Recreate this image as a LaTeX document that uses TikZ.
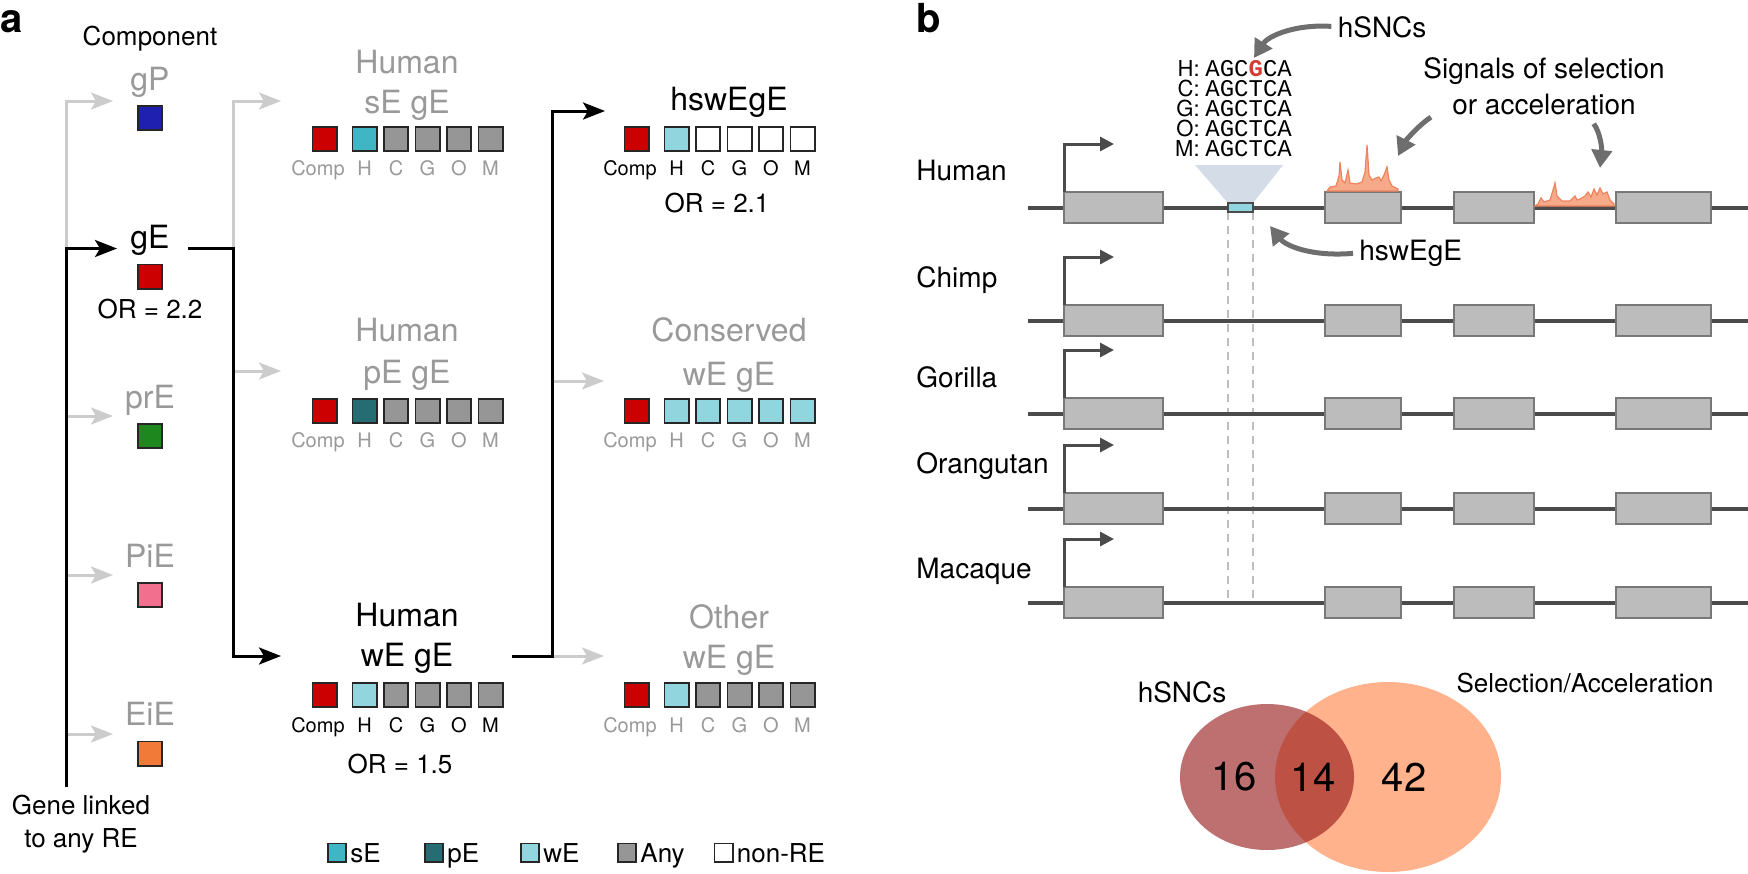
\documentclass[tikz,border=0pt]{standalone}
\usepackage{fontspec}
\setmainfont{TeX Gyre Heros}
\newfontfamily\seqfont{Liberation Mono}
\usetikzlibrary{positioning, arrows.meta, shapes.geometric}
\definecolor{colorFaded}{RGB}{153,153,153}
\definecolor{colorFadedLine}{RGB}{204,204,204}
\definecolor{colorComp}{RGB}{204,0,0}
\definecolor{colorgP}{RGB}{32,32,176}
\definecolor{colorprE}{RGB}{30,136,30}
\definecolor{colorPiE}{RGB}{242,112,142}
\definecolor{colorEiE}{RGB}{242,122,56}
\definecolor{colorsE}{RGB}{64,182,196}
\definecolor{colorpE}{RGB}{38,108,115}
\definecolor{colorwE}{RGB}{145,213,222}
\definecolor{colorAny}{RGB}{150,150,150}
\definecolor{colorTrack}{RGB}{75,75,75}
\definecolor{colorExon}{RGB}{188,188,188}
\definecolor{colorExonLine}{RGB}{120,120,120}
\definecolor{colorGuide}{RGB}{190,190,190}
\definecolor{colorFunnel}{RGB}{212,220,232}
\definecolor{colorPeak}{RGB}{247,170,138}
\definecolor{colorPeakLine}{RGB}{238,132,92}
\definecolor{colorNote}{RGB}{110,110,110}
\definecolor{colorSNC}{RGB}{150,24,24}
\definecolor{colorSel}{RGB}{255,178,140}
\definecolor{colorRedG}{RGB}{210,60,50}

\begin{document}
\begin{tikzpicture}[
    x=0.5pt, y=-0.5pt,
    panel/.style={font=\fontsize{20}{24}\selectfont\bfseries, anchor=base west, inner sep=0pt},
    titletext/.style={font=\fontsize{16}{19}\selectfont, anchor=base, inner sep=0pt},
    note/.style={font=\fontsize{13}{16}\selectfont, anchor=base, inner sep=0pt},
    boxlabel/.style={font=\fontsize{10}{12}\selectfont, anchor=base, inner sep=0pt},
    faded/.style={text=colorFaded},
    swatch/.style={draw=black!85, line width=0.9pt, minimum size=12.1pt, inner sep=0pt},
    legendbox/.style={draw=black!85, line width=0.8pt, minimum size=9.2pt, inner sep=0pt},
    arrow/.style={-{Stealth[length=11pt, width=8.5pt, inset=2.5pt]}, line width=1.5pt, color=black},
    fadedarrow/.style={arrow, color=colorFadedLine},
    species/.style={font=\fontsize{14}{17}\selectfont, anchor=base west, inner sep=0pt},
    seqlabel/.style={font=\fontsize{11}{10}\selectfont, anchor=south east, align=right, inner sep=0pt},
    seqtext/.style={font=\seqfont\fontsize{12}{10}\selectfont, anchor=south west, align=left, inner sep=0pt},
    track/.style={line width=2pt, color=colorTrack},
    exon/.style={fill=colorExon, draw=colorExonLine, line width=0.9pt},
    tss/.style={-{Triangle[length=7pt, width=7pt]}, line width=1.5pt, color=colorTrack},
    guide/.style={dash pattern=on 4pt off 3pt, line width=1pt, color=colorGuide},
    peak/.style={fill=colorPeak, draw=colorPeakLine, line width=0.6pt},
    curvearrow/.style={-{Triangle[length=9pt, width=10pt]}, line width=2.5pt, color=colorNote, shorten <=3pt},
    count/.style={font=\fontsize{20}{24}\selectfont, inner sep=0pt}
]
\useasboundingbox (0,0) rectangle (1748,873);

% Panel labels
\node[panel] (panelA) at (0,32) {a};
\node[panel] (panelB) at (916,32) {b};

% Component column nodes
\node[note] (compHead) at (150,45) {Component};
\node[titletext, faded] (gP) at (150,90) {gP};
\node[swatch, fill=colorgP] (gPbox) at (150,118) {};
\node[titletext] (gE) at (150,248.5) {gE};
\node[swatch, fill=colorComp] (gEbox) at (150,276.5) {};
\node[note] (gEor) at (150,318) {OR = 2.2};
\node[titletext, faded] (prE) at (150,408) {prE};
\node[swatch, fill=colorprE] (prEbox) at (150,436) {};
\node[titletext, faded] (PiE) at (150,567) {PiE};
\node[swatch, fill=colorPiE] (PiEbox) at (150,595) {};
\node[titletext, faded] (EiE) at (150,725.5) {EiE};
\node[swatch, fill=colorEiE] (EiEbox) at (150,753.5) {};
\node[note] (geneAny) at (81,814) {Gene linked};
\node[note] (geneAny2) at (81,847) {to any RE};

% Human sE gE
\node[titletext, faded] (sEname) at (407,73) {Human};
\node[titletext, faded] (sEname2) at (407,113) {sE gE};
\node[swatch, fill=colorComp] (sEComp) at (324.5,139) {};
\node[swatch, fill=colorsE] (sEH) at (364.5,139) {};
\foreach \s/\x in {C/396, G/427.5, O/459, M/490.5}
    \node[swatch, fill=colorAny] (sE\s) at (\x,139) {};
\foreach \s/\x in {Comp/318, H/364.5, C/396, G/427.5, O/459, M/490.5}
    \node[boxlabel, faded] (sElab\s) at (\x,175) {\s};

% Human pE gE
\node[titletext, faded] (pEname) at (407,341) {Human};
\node[titletext, faded] (pEname2) at (407,383) {pE gE};
\node[swatch, fill=colorComp] (pEComp) at (324.5,411) {};
\node[swatch, fill=colorpE] (pEH) at (364.5,411) {};
\foreach \s/\x in {C/396, G/427.5, O/459, M/490.5}
    \node[swatch, fill=colorAny] (pE\s) at (\x,411) {};
\foreach \s/\x in {Comp/318, H/364.5, C/396, G/427.5, O/459, M/490.5}
    \node[boxlabel, faded] (pElab\s) at (\x,447) {\s};

% Human wE gE
\node[titletext] (wEname) at (407,626) {Human};
\node[titletext] (wEname2) at (407,666) {wE gE};
\node[swatch, fill=colorComp] (wEComp) at (324.5,695) {};
\node[swatch, fill=colorwE] (wEH) at (364.5,695) {};
\foreach \s/\x in {C/396, G/427.5, O/459, M/490.5}
    \node[swatch, fill=colorAny] (wE\s) at (\x,695) {};
\foreach \s/\x in {Comp/318, H/364.5, C/396, G/427.5, O/459, M/490.5}
    \node[boxlabel] (wElab\s) at (\x,732) {\s};
\node[note] (wEor) at (400,773) {OR = 1.5};

% hswEgE
\node[titletext] (hswname) at (729,110) {hswEgE};
\node[swatch, fill=colorComp] (hswComp) at (636.5,139) {};
\node[swatch, fill=colorwE] (hswH) at (676.5,139) {};
\foreach \s/\x in {C/708, G/739.5, O/771, M/802.5}
    \node[swatch, fill=white] (hsw\s) at (\x,139) {};
\foreach \s/\x in {Comp/630, H/676.5, C/708, G/739.5, O/771, M/802.5}
    \node[boxlabel] (hswlab\s) at (\x,175) {\s};
\node[note] (hswor) at (717,212) {OR = 2.1};

% Conserved wE gE
\node[titletext, faded] (consname) at (729,341) {Conserved};
\node[titletext, faded] (consname2) at (729,385) {wE gE};
\node[swatch, fill=colorComp] (consComp) at (636.5,411) {};
\foreach \s/\x in {H/676.5, C/708, G/739.5, O/771, M/802.5}
    \node[swatch, fill=colorwE] (cons\s) at (\x,411) {};
\foreach \s/\x in {Comp/630, H/676.5, C/708, G/739.5, O/771, M/802.5}
    \node[boxlabel, faded] (conslab\s) at (\x,447) {\s};

% Other wE gE
\node[titletext, faded] (othername) at (729,628) {Other};
\node[titletext, faded] (othername2) at (729,668) {wE gE};
\node[swatch, fill=colorComp] (otherComp) at (636.5,695) {};
\node[swatch, fill=colorwE] (otherH) at (676.5,695) {};
\foreach \s/\x in {C/708, G/739.5, O/771, M/802.5}
    \node[swatch, fill=colorAny] (other\s) at (\x,695) {};
\foreach \s/\x in {Comp/630, H/676.5, C/708, G/739.5, O/771, M/802.5}
    \node[boxlabel, faded] (otherlab\s) at (\x,732) {\s};

% Arrows
\coordinate (trunk) at (66,787);
\coordinate (trunkSplit) at (66,248.5);
\coordinate (gPin) at (113,101);
\coordinate (gEin) at (117,248.5);
\coordinate (prEin) at (113,416);
\coordinate (PiEin) at (113,575);
\coordinate (EiEin) at (113,734);
\coordinate (gEout) at (188,248.5);
\coordinate (gEsplit) at (233,248.5);
\coordinate (sEin) at (281,101);
\coordinate (pEin) at (281,371);
\coordinate (wEin) at (281,656);
\coordinate (wEout) at (512,656);
\coordinate (wEsplit) at (552,656);
\coordinate (hswIn) at (605,111);
\coordinate (consIn) at (604,381);
\coordinate (otherIn) at (604,656);

\draw[fadedarrow] (trunkSplit) |- (gPin);
\draw[fadedarrow] (trunk) |- (prEin);
\draw[fadedarrow] (trunk) |- (PiEin);
\draw[fadedarrow] (trunk) |- (EiEin);
\draw[fadedarrow] (gEsplit) |- (sEin);
\draw[fadedarrow] (gEsplit) |- (pEin);
\draw[fadedarrow] (wEsplit) |- (consIn);
\draw[fadedarrow] (wEsplit) -- (otherIn);
\draw[arrow] (trunk) |- (gEin);
\draw[arrow] (gEout) -- (gEsplit) |- (wEin);
\draw[arrow] (wEout) -- (wEsplit) |- (hswIn);

% Legend
\node[legendbox, fill=colorsE] (lgsE) at (337,852.5) {};
\node[note, right=1.5pt of lgsE.south east, anchor=base west] (lgsEtext) {sE};
\node[legendbox, fill=colorpE] (lgpE) at (434,852.5) {};
\node[note, right=1.5pt of lgpE.south east, anchor=base west] (lgpEtext) {pE};
\node[legendbox, fill=colorwE] (lgwE) at (530,852.5) {};
\node[note, right=1.5pt of lgwE.south east, anchor=base west] (lgwEtext) {wE};
\node[legendbox, fill=colorAny] (lgAny) at (627,852.5) {};
\node[note, right=1.5pt of lgAny.south east, anchor=base west] (lgAnytext) {Any};
\node[legendbox, fill=white] (lgNon) at (723.5,852.5) {};
\node[note, right=1.5pt of lgNon.south east, anchor=base west] (lgNontext) {non-RE};

% Sequence alignment
\node[seqlabel] (alnLabels) at (1200,157) {H:\\C:\\G:\\O:\\M:};
\node[seqtext] (alnSeqs) at (1205,157) {AGC{\bfseries\color{colorRedG}G}CA\\AGCTCA\\AGCTCA\\AGCTCA\\AGCTCA};
\fill[colorFunnel] (1195,165) -- (1283,165) -- (1253,203) -- (1228,203) -- cycle;
\draw[guide] (1228,212) -- (1228,603);
\draw[guide] (1253,212) -- (1253,603);

% Species tracks
\foreach \sp/\y/\base in {Human/208/180, Chimp/321/287, Gorilla/414/387, Orangutan/509/473, Macaque/603/578} {
    \node[species] (\sp) at (916,\base) {\sp};
    \draw[track] (1028,\y) -- (1748,\y);
    \foreach \xa/\xb in {1064/1163, 1325/1401, 1454/1534, 1616/1711}
        \draw[exon] (\xa,\y-16) rectangle (\xb,\y+15);
    \draw[tss] (1064,\y-16) -- (1064,\y-64) -- (1114,\y-64);
}
\node[draw=colorTrack, fill=colorwE, line width=0.8pt, minimum width=12.5pt, minimum height=4.5pt, inner sep=0pt] (hswSite) at (1240.5,207.5) {};

% Selection signals
\filldraw[peak] (1327,191) -- (1330,187) -- (1336,186) -- (1339,176) -- (1340,162) -- (1342,180) -- (1345,183) -- (1348,170) -- (1350,183) -- (1356,184) -- (1362,182) -- (1365,172) -- (1367,145) -- (1369,175) -- (1372,180) -- (1376,178) -- (1379,177) -- (1381,181) -- (1384,175) -- (1387,167) -- (1389,180) -- (1392,186) -- (1398,189) -- (1398,191) -- cycle;
\filldraw[peak] (1535,206) -- (1538,204) -- (1541,198) -- (1544,202) -- (1550,200) -- (1553,190) -- (1555,183) -- (1557,196) -- (1562,201) -- (1570,201) -- (1575,196) -- (1577,200) -- (1580,199) -- (1585,196) -- (1588,192) -- (1591,197) -- (1594,189) -- (1597,195) -- (1600,188) -- (1603,194) -- (1607,192) -- (1610,200) -- (1614,204) -- (1614,206) -- cycle;

% Annotations
\node[species, anchor=base] (sncNote) at (1382,37) {hSNCs};
\node[species, anchor=base] (selNote) at (1544,78) {Signals of selection};
\node[species, anchor=base] (selNote2) at (1544,114) {or acceleration};
\node[species] (hswNote) at (1359,260) {hswEgE};
\coordinate (sncTip) at (1254,58);
\coordinate (selStartL) at (1436,114);
\coordinate (selTipL) at (1398,156);
\coordinate (selStartR) at (1590,119);
\coordinate (selTipR) at (1600,168);
\coordinate (hswTip) at (1270,226);
\draw[curvearrow] (sncNote.west) .. controls (1295,24) and (1268,36) .. (sncTip);
\draw[curvearrow] (selStartL) .. controls (1420,124) and (1406,140) .. (selTipL);
\draw[curvearrow] (selStartR) .. controls (1600,132) and (1602,148) .. (selTipR);
\draw[curvearrow] (hswNote.west) .. controls (1310,257) and (1285,245) .. (hswTip);

% Venn diagram
\node[ellipse, fill=colorSel, minimum width=113pt, minimum height=95pt, inner sep=0pt] (selSet) at (1388,777) {};
\node[ellipse, fill=colorSNC, fill opacity=0.62, minimum width=87pt, minimum height=73pt, inner sep=0pt] (sncSet) at (1267,777) {};
\node[count] (sncOnly) at (1234,777) {16};
\node[count] (bothSets) at (1313,777) {14};
\node[count] (selOnly) at (1404,777) {42};
\node[species, anchor=base] (sncSetLabel) at (1182,702) {hSNCs};
\node[note] (selSetLabel) at (1585,692) {Selection/Acceleration};

\end{tikzpicture}
\end{document}
